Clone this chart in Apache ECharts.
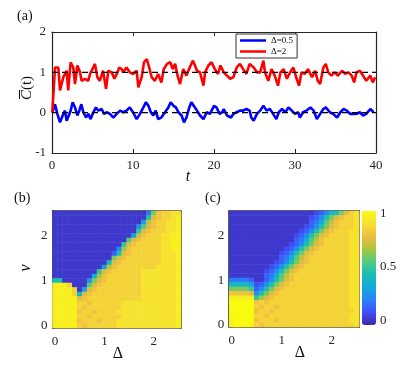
<!DOCTYPE html>
<html>
<head>
<meta charset="utf-8">
<script src="https://cdn.jsdelivr.net/npm/echarts@6/dist/echarts.min.js"></script>
<style>
html, body { margin: 0; padding: 0; background: #fff; }
#main { width: 415px; height: 368px; }
</style>
</head>
<body>
<div id="main"></div>
<script>
// (a) time series
var tBlue = [0.04,0.37,0.66,0.99,1.32,1.6,1.81,2.02,2.3,2.55,2.84,3.13,3.37,3.62,3.87,4.2,4.49,4.77,5.1,5.43,5.72,6.13,6.42,6.75,7.16,7.57,7.98,8.4,8.8,9.2,9.6,10.0,10.45,10.86,11.28,11.6,11.9,12.2,12.5,12.8,13.1,13.5,13.95,14.36,14.65,15.0,15.3,15.6,16.0,16.3,16.6,16.95,17.2,17.5,17.9,18.27,18.7,19.1,19.5,20.0,20.3,20.7,21.0,21.2,21.6,22.1,22.4,22.8,23.2,23.6,24.0,24.4,24.6,24.9,25.3,25.7,26.1,26.5,26.9,27.3,27.7,28.0,28.4,28.8,29.2,29.6,30.0,30.4,30.6,31.0,31.4,31.9,32.3,32.7,33.1,33.5,33.8,34.3,34.7,35.2,35.6,36.0,36.4,36.8,37.2,37.6,38.0,38.4,38.8,39.3,39.7];
var cBlue = [0.0,0.21,-0.03,-0.24,-0.07,0.05,-0.2,-0.24,0.05,0.26,0.13,-0.07,0.05,0.21,0.01,-0.12,-0.03,-0.16,0.01,0.13,0.05,0.09,-0.03,0.01,-0.03,-0.12,-0.03,0.05,0.01,0.05,0.13,0.01,-0.16,-0.03,0.13,0.26,0.17,0.01,-0.07,0.05,-0.16,-0.12,0.01,0.13,0.26,0.17,0.13,0.01,-0.07,-0.24,-0.12,0.13,0.26,0.17,0.05,-0.07,-0.16,0.01,-0.03,0.17,0.13,-0.03,0.01,0.09,-0.07,-0.12,-0.03,0.01,0.05,0.05,0.09,0.05,-0.12,-0.2,-0.03,0.05,0.17,0.05,0.09,-0.03,-0.16,0.01,0.09,0.01,0.13,0.05,-0.03,0.01,-0.12,0.01,0.05,0.13,0.05,-0.16,-0.03,0.09,0.13,0.01,-0.03,-0.12,0.01,0.09,0.05,-0.03,-0.03,-0.03,0.01,-0.07,-0.03,0.09,0.01];
var tRed = [0.04,0.37,0.78,0.99,1.4,1.81,2.0,2.3,2.63,2.84,3.13,3.46,3.66,4.07,4.49,4.69,4.9,5.3,5.6,5.9,6.3,6.67,6.95,7.37,7.7,8.0,8.3,8.6,8.8,9.2,9.6,10.0,10.45,10.66,11.07,11.36,11.7,12.0,12.3,12.7,13.1,13.5,13.8,14.2,14.6,14.9,15.2,15.5,15.8,16.2,16.6,17.0,17.4,17.65,17.9,18.27,18.7,18.9,19.3,19.7,20.1,20.5,20.8,21.2,21.6,22.0,22.4,22.8,23.2,23.6,24.0,24.4,24.9,25.3,25.7,26.1,26.3,26.7,27.1,27.5,27.9,28.2,28.6,29.0,29.4,29.8,30.2,30.5,30.8,31.2,31.6,32.1,32.5,32.8,33.1,33.5,33.8,34.1,34.5,34.9,35.3,35.8,36.2,36.6,37.0,37.3,37.6,38.0,38.4,38.8,39.3,39.6,39.9];
var cRed = [0.01,1.12,1.12,0.55,0.88,1.04,0.55,1.25,1.12,0.71,1.17,1.0,0.79,0.84,0.79,0.96,1.04,1.21,0.88,0.79,1.04,0.59,1.04,1.0,0.84,0.96,1.12,1.08,1.0,1.12,1.0,0.96,1.04,0.63,0.88,1.25,1.33,1.12,0.88,0.79,0.96,0.75,1.08,1.21,1.25,1.08,1.21,0.92,0.71,1.08,0.92,1.12,1.29,1.17,1.04,1.0,0.67,1.0,1.17,1.25,1.08,0.96,1.17,1.0,0.92,0.84,0.88,1.12,1.21,1.08,0.96,1.21,1.12,1.0,1.0,1.29,1.0,0.79,1.08,0.92,0.67,1.0,1.08,0.84,1.0,1.12,0.84,0.67,1.0,0.96,1.08,0.88,1.04,0.79,0.71,1.12,1.21,1.0,0.92,1.0,0.92,1.04,0.96,1.0,0.92,0.75,1.0,1.04,0.92,0.79,0.92,0.75,0.88];
var refLevels = [0, 1];
var seriesNames = ['Δ=0.5', 'Δ=2'];

// (b),(c) grids: Δ and v both 0..2.5 in steps of 0.1
var deltaCats = [0,0.1,0.2,0.3,0.4,0.5,0.6,0.7,0.8,0.9,1,1.1,1.2,1.3,1.4,1.5,1.6,1.7,1.8,1.9,2,2.1,2.2,2.3,2.4,2.5];
var vCats = [0,0.1,0.2,0.3,0.4,0.5,0.6,0.7,0.8,0.9,1,1.1,1.2,1.3,1.4,1.5,1.6,1.7,1.8,1.9,2,2.1,2.2,2.3,2.4,2.5];
var barTicks = [0, 0.5, 1];

// cell levels: a=0, b=0.05, ... u=1 ; rows from v=2.5 (top) down to v=0
var levelChars = 'abcdefghijklmnopqrstu';
var mapB = [
  'bbbbb bbbbb bbbbb bbbbe mqrrs s',
  'bbbbb bbbbb bbbbb bbbbj pqrrs t',
  'bbbbb bbbbb bbbbb bbbgo qrrss t',
  'bbbbb bbbbb bbbbb bbflp qrrss t',
  'bbbbb bbbbb bbbbb bbkpq rrrss t',
  'bbbbb bbbbb bbbbb bgoqr rrsst t',
  'bbbbb bbbbb bbbbb lpqrr rrsst t',
  'bbbbb bbbbb bbbbk pqrrr rrsst t',
  'bbbbb bbbbb bbbfn qrrrr rrsst t',
  'bbbbb bbbbb bbdjp qrrrr rrsss t',
  'bbbbb bbbbb bbmpq rrrrr rrsss t',
  'bbbbb bbbbb bipqr rrrrr rrsss t',
  'bbbbb bbbbb goqrr rrrrr rssss t',
  'bbbbb bbbbk pqrrr rrrss sssss t',
  'bbbbb bbbhn qrrrr rrrss sssss t',
  'jjbbb bbfmp qrrrr rrrss sssss t',
  'tttrb bblpq rrrrr rrrss sssss t',
  'ttttr bgpqr rrrrr rrrss sssss t',
  'ttttr ipqrr rrrrr rrrss sssss t',
  'ttttt pqrrr rrrrr rrrss sssss t',
  'ttttt rrqrr rrrrs sssss sssss t',
  'ttttt rqrrr rrrrs sssss sssss t',
  'ttttt qrrqr rrrss sssss sssss t',
  'ttttt rrqrr rrrrs sssss sssss t',
  'ttttt qrrrq rrrss sssss sssss t',
  'ttttt rqrrr rrrss sssss sssss t'
];
var mapC = [
  'bbbbb bbbbb bbbbb bbcdf ijmpr s',
  'bbbbb bbbbb bbbbb bcdfj mpqrr s',
  'bbbbb bbbbb bbbbb bdehl oqrrr s',
  'bbbbb bbbbb bbbbb cdfjm pqrrr s',
  'bbbbb bbbbb bbbbc dfjmp qrrrs s',
  'bbbbb bbbbb bbbcd fjmpq rrrrs s',
  'bbbbb bbbbb bbbde hloqr rrrrs s',
  'bbbbb bbbbb bbcdf jmpqr rrrrs s',
  'bbbbb bbbbb bcdfj mpqrr rrrrs s',
  'bbbbb bbbbb cdfjm pqrrr rrrrs s',
  'bbbbb bbbbb dehlo qrrrr rrrrs s',
  'bbbbb bbbbc dfjmp qrrrr rrrrs s',
  'bbbbb bbbcd fjmpq rrrrr rrrrs s',
  'bbbbb bbcdf jmpqr rrrrr rrrrs s',
  'bbbbb bbdeh loqrr rrrrr rrrrs s',
  'eeeed bbdfj mpqrr rrrrr rrrrs s',
  'iiiig cdfjm pqrrr rrrrr rrrrs s',
  'mmmmk dfjmp qrrrr rrrrr rrrrs s',
  'qqqqp fjmpq rrrrr rrrrr rrrrs s',
  'ttttt knpqr rrrrr rrrrr rrrrs s',
  'uuuuu qrqrr rrrrr rrrrr rrrrs s',
  'uuuuu rqrrq rrrrr rrrrr rrrrs s',
  'uuuuu qrrqr rrrrr rrrrr rrrrr s',
  'uuuuu rrqrr rrrrr rrrrr rrrrs s',
  'tuuuu qrrrq rrrrr rrrrr rrrrs s',
  'tuuut rqrrr rrrrr rrrrr rrrrr s'
];

var parula = ['#3e26a8','#404ffa','#2885f6','#14a9dd','#18beb4','#53cb82','#abc739','#efbb42','#f7e032','#f9fb0e'];
var serif = 'Liberation Serif';
var ink = '#262626';

function pairs(t, c) {
  return t.map(function (v, k) { return [v, c[k]]; });
}
function heatData(rows) {
  var out = [];
  rows.forEach(function (row, r) {
    var cells = row.replace(/ /g, '');
    var j = rows.length - 1 - r;
    for (var i = 0; i < cells.length; i++) {
      out.push([i, j, levelChars.indexOf(cells[i]) * 0.05]);
    }
  });
  return out;
}
function everyTenth(idx) { return idx % 10 === 0; }

var lineAxis = { onZero: false, lineStyle: { color: ink, width: 1.2 } };
var tickIn = { inside: true, length: 4, lineStyle: { color: ink } };
var lab = { fontFamily: serif, fontSize: 13, color: ink };

function valAxis(grid, extra) {
  return Object.assign({
    gridIndex: grid, type: 'value', axisLine: lineAxis, axisTick: tickIn,
    axisLabel: Object.assign({ margin: 6 }, lab), splitLine: { show: false }
  }, extra);
}
function catAxis(grid, cats, extra, showLabel) {
  return Object.assign({
    gridIndex: grid, type: 'category', data: cats.map(String),
    axisLine: { onZero: false, lineStyle: { color: '#333', width: 1.6 } },
    axisTick: { inside: true, length: 3, alignWithLabel: true, interval: everyTenth, lineStyle: { color: ink } },
    axisLabel: Object.assign({ show: showLabel, interval: everyTenth, margin: 7 }, lab),
    splitLine: { show: false }
  }, extra);
}

var myChart = echarts.init(document.getElementById('main'));
var option = {
  animation: false,
  grid: [
    { left: 52, top: 32, width: 324, height: 121 },
    { left: 52.5, top: 211, width: 128.5, height: 117 },
    { left: 229.2, top: 211, width: 130, height: 116 },
    { left: 362, top: 211, width: 14, height: 114 }
  ],
  xAxis: [
    valAxis(0, { min: 0, max: 40, interval: 10 }),
    valAxis(0, { min: 0, max: 40, interval: 10, position: 'top', axisLabel: { show: false } }),
    catAxis(1, deltaCats, {}, true),
    catAxis(1, deltaCats, { position: 'top' }, false),
    catAxis(2, deltaCats, {}, true),
    catAxis(2, deltaCats, { position: 'top' }, false),
    { gridIndex: 3, type: 'value', show: false }
  ],
  yAxis: [
    valAxis(0, { min: -1, max: 2, interval: 1 }),
    valAxis(0, { min: -1, max: 2, interval: 1, position: 'right', axisLabel: { show: false } }),
    catAxis(1, vCats, { axisLabel: Object.assign({ interval: everyTenth, margin: 5 }, lab) }, true),
    catAxis(1, vCats, { position: 'right' }, false),
    catAxis(2, vCats, { axisLabel: Object.assign({ interval: everyTenth, margin: 5 }, lab) }, true),
    catAxis(2, vCats, { position: 'right' }, false),
    {
      gridIndex: 3, type: 'value', position: 'right', min: -0.04, max: 1.02,
      axisLine: { show: false }, axisTick: { show: false }, splitLine: { show: false },
      axisLabel: Object.assign({ customValues: barTicks, margin: 4 }, lab)
    }
  ],
  visualMap: {
    type: 'continuous', min: 0, max: 1, seriesIndex: [4, 5], calculable: false,
    left: 362, top: 211, itemWidth: 14, itemHeight: 114, padding: 0,
    inRange: { color: parula }
  },
  legend: {
    data: seriesNames, orient: 'vertical', left: 236, top: 34, icon: 'rect',
    itemWidth: 26, itemHeight: 2.5, itemGap: 2, padding: [2, 4, 2, 4],
    borderColor: '#333', borderWidth: 1, backgroundColor: '#fff',
    textStyle: { fontFamily: serif, fontSize: 9, color: '#111' }
  },
  series: [
    { name: seriesNames[0], type: 'line', xAxisIndex: 0, yAxisIndex: 0, data: pairs(tBlue, cBlue),
      symbol: 'none', lineStyle: { color: '#0000ff', width: 2.6 }, itemStyle: { color: '#0000ff' } },
    { name: seriesNames[1], type: 'line', xAxisIndex: 0, yAxisIndex: 0, data: pairs(tRed, cRed),
      symbol: 'none', lineStyle: { color: '#ff0000', width: 2.6 }, itemStyle: { color: '#ff0000' } },
    { type: 'line', xAxisIndex: 0, yAxisIndex: 0, data: [[0, refLevels[0]], [40, refLevels[0]]],
      symbol: 'none', lineStyle: { color: '#000', width: 1.4, type: [6, 4] }, z: 5 },
    { type: 'line', xAxisIndex: 0, yAxisIndex: 0, data: [[0, refLevels[1]], [40, refLevels[1]]],
      symbol: 'none', lineStyle: { color: '#000', width: 1.4, type: [6, 4] }, z: 5 },
    { type: 'heatmap', xAxisIndex: 2, yAxisIndex: 2, data: heatData(mapB), progressive: 0 },
    { type: 'heatmap', xAxisIndex: 4, yAxisIndex: 4, data: heatData(mapC), progressive: 0 }
  ],
  graphic: [
    { type: 'text', x: 17, y: 9, style: { text: '(a)', font: '14px "Liberation Serif"', fill: '#111' } },
    { type: 'text', x: 14, y: 191, style: { text: '(b)', font: '14px "Liberation Serif"', fill: '#111' } },
    { type: 'text', x: 205, y: 191, style: { text: '(c)', font: '14px "Liberation Serif"', fill: '#111' } },
    { type: 'text', x: 188, y: 177, style: { text: 't', font: 'italic 16px "Liberation Serif"', fill: '#111', align: 'center', verticalAlign: 'middle' } },
    { type: 'text', x: 118, y: 354, style: { text: 'Δ', font: '16px "Liberation Serif"', fill: '#111', align: 'center', verticalAlign: 'middle' } },
    { type: 'text', x: 300, y: 353, style: { text: 'Δ', font: '16px "Liberation Serif"', fill: '#111', align: 'center', verticalAlign: 'middle' } },
    { type: 'text', x: 26, y: 268, rotation: Math.PI / 2, style: { text: 'v', font: 'italic 16px "Liberation Serif"', fill: '#111', align: 'center', verticalAlign: 'middle' } },
    {
      type: 'group', x: 27, y: 88, rotation: Math.PI / 2,
      children: [
        { type: 'text', style: { text: '{i|C}(t)', rich: { i: { fontStyle: 'italic', fontFamily: serif, fontSize: 15 } },
          fontFamily: serif, fontSize: 15, fill: '#111', align: 'center', verticalAlign: 'middle' } },
        { type: 'line', shape: { x1: -11, y1: -7.5, x2: -2, y2: -7.5 }, style: { stroke: '#111', lineWidth: 1 } }
      ]
    }
  ]
};
myChart.setOption(option);
</script>
</body>
</html>
